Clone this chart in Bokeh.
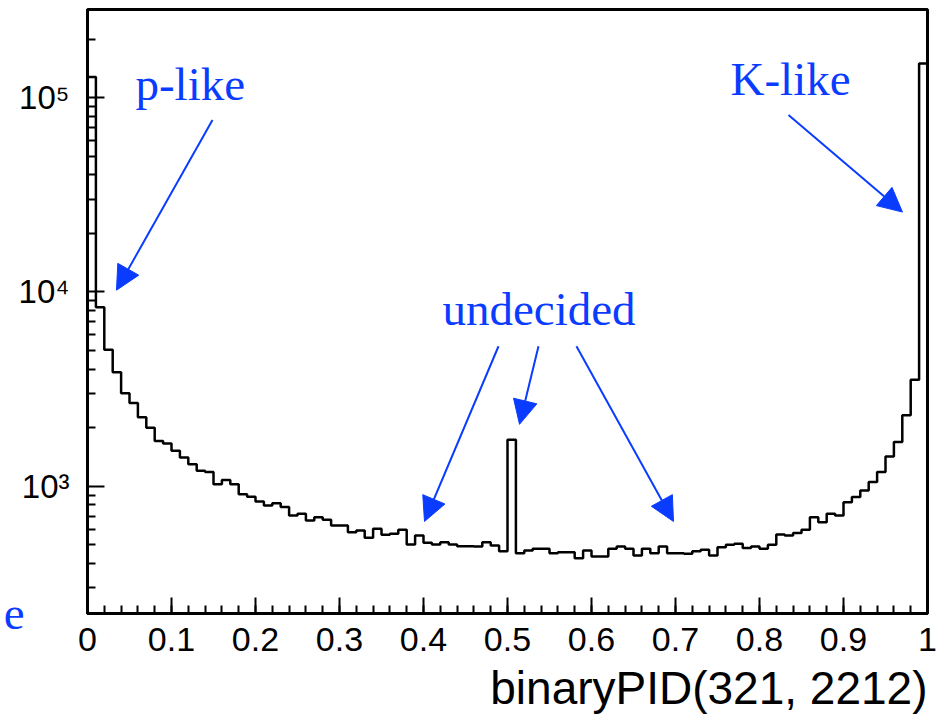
import numpy as np
from bokeh.plotting import figure
from bokeh.models import Range1d, Label, Arrow, NormalHead, FixedTicker, Title
from bokeh.embed import file_html
from bokeh.resources import INLINE

# ---------------- data ----------------
bin_lo, bin_hi, n_bins = 0.0, 1.0, 100
counts = [
    127700, 8340, 5040, 3855, 3006, 2678, 2260, 1995, 1710, 1660,
    1522, 1406, 1298, 1199, 1182, 1023, 1076, 1023, 909, 881,
    834, 795, 817, 780, 706, 721, 666, 692, 671, 627,
    627, 579, 591, 542, 603, 562, 569, 596, 500, 557,
    511, 500, 514, 500, 491, 491, 489, 514, 495, 462,
    1734, 452, 466, 476, 476, 452, 457, 457, 426, 466,
    434, 434, 476, 489, 476, 440, 476, 452, 489, 452,
    452, 449, 462, 470, 440, 485, 499, 505, 481, 489,
    476, 499, 564, 557, 573, 596, 692, 652, 721, 706,
    827, 878, 950, 1049, 1181, 1423, 1686, 2314, 3533, 149700,
]
x_ticks = [0, 0.1, 0.2, 0.3, 0.4, 0.5, 0.6, 0.7, 0.8, 0.9, 1]
x_tick_labels = ["0", "0.1", "0.2", "0.3", "0.4", "0.5", "0.6", "0.7", "0.8", "0.9", "1"]
y_ticks = [1000, 10000, 100000]
y_tick_labels = ["10\u00b3", "10\u2074", "10\u2075"]
x_title = "binaryPID(321, 2212)"
side_text = "e"

# annotations: text, x (data), y (data)
ann_texts = ["p-like", "K-like", "undecided"]
ann_x = [0.0571, 0.7655, 0.4226]
ann_y = [97250, 103200, 6734]
# arrows: start / end in data coords
arr_x0 = [0.1488, 0.8345, 0.4893, 0.5369, 0.5821]
arr_y0 = [76740, 81470, 5250, 5250, 5250]
arr_x1 = [0.0345, 0.9702, 0.4012, 0.5143, 0.6976]
arr_y1 = [10205, 25760, 658, 2080, 658]

BLUE = "#0a3cff"

# ---------------- figure ----------------
p = figure(width=939, height=723, y_axis_type="log",
           x_range=Range1d(0, 1), y_range=Range1d(221, 284200),
           output_backend="svg", toolbar_location=None,
           min_border_left=87, min_border_right=12,
           min_border_top=9, min_border_bottom=110)
p.grid.grid_line_color = None
p.outline_line_color = "black"
p.outline_line_width = 3
p.background_fill_color = "white"
p.border_fill_color = "white"

# histogram as step outline
edges = np.linspace(bin_lo, bin_hi, n_bins + 1)
yy = list(counts) + [counts[-1]]
p.step(x=edges, y=yy, mode="after", line_color="black", line_width=2.5)

# x axis
xa = p.xaxis[0]
xa.ticker = FixedTicker(ticks=x_ticks,
                        minor_ticks=[float(v) for v in np.round(np.arange(0, 1.0001, 0.02), 2)])
xa.major_label_overrides = dict(zip(x_ticks, x_tick_labels))
xa.major_tick_in = 16
xa.major_tick_out = 0
xa.minor_tick_in = 8
xa.minor_tick_out = 0
xa.major_tick_line_width = 2
xa.minor_tick_line_width = 2
xa.axis_line_width = 3
xa.major_label_text_font = "Liberation Sans"
xa.major_label_text_font_size = "34px"
xa.major_label_text_color = "black"
xa.major_label_standoff = 14

# y axis
ya = p.yaxis[0]
y_minor = [float(k * 10 ** d) for d in range(2, 6) for k in range(2, 10) if 221 <= k * 10 ** d <= 284200]
ya.ticker = FixedTicker(ticks=y_ticks, minor_ticks=y_minor)
ya.major_label_overrides = dict(zip(y_ticks, y_tick_labels))
ya.major_label_text_font = "Liberation Sans"
ya.major_label_text_font_size = "33px"
ya.major_label_text_color = "black"
ya.major_label_standoff = 18
ya.major_tick_in = 17
ya.major_tick_out = 0
ya.minor_tick_in = 8
ya.minor_tick_out = 0
ya.major_tick_line_width = 2
ya.minor_tick_line_width = 2
ya.axis_line_width = 3
# cut-off text from the neighbouring panel on the far left
ya.axis_label = side_text
ya.axis_label_orientation = "horizontal"
ya.axis_label_text_font = "Liberation Serif"
ya.axis_label_text_font_style = "normal"
ya.axis_label_text_font_size = "47px"
ya.axis_label_text_color = BLUE
ya.axis_label_standoff = -9
if "axis_label_align" in ya.properties():
    ya.axis_label_align = "start"

# x title, right aligned below the axis
p.add_layout(Title(text=x_title, align="right", text_font="Liberation Sans",
                   text_font_style="normal", text_font_size="46px",
                   text_color="black", standoff=12), "below")

# annotations
for t, xv, yv in zip(ann_texts, ann_x, ann_y):
    p.add_layout(Label(x=xv, y=yv, text=t, text_font="Liberation Serif",
                       text_font_size="47px", text_color=BLUE, y_offset=16,
                       text_align="left", text_baseline="alphabetic"))

for x0, y0, x1, y1 in zip(arr_x0, arr_y0, arr_x1, arr_y1):
    p.add_layout(Arrow(end=NormalHead(size=24, fill_color=BLUE, line_color=BLUE, line_width=1),
                       x_start=x0, y_start=y0, x_end=x1, y_end=y1,
                       line_color=BLUE, line_width=2))

open("out.html", "w").write(file_html(p, INLINE))
